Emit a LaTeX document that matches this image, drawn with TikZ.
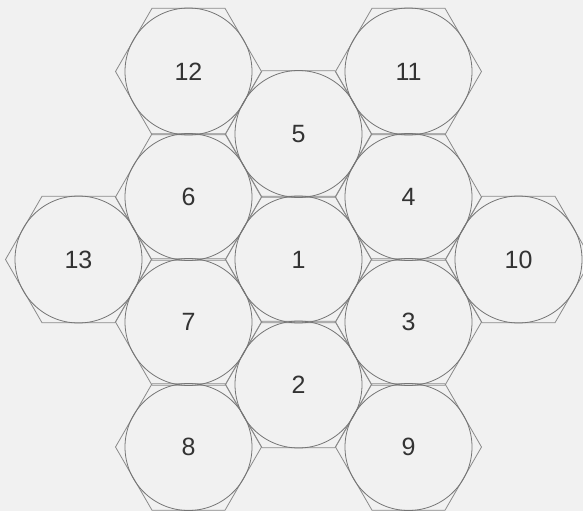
\documentclass[tikz,border=0pt]{standalone}
\usepackage{fontspec}
\setmainfont{Liberation Sans}
\usetikzlibrary{calc}
\definecolor{bg}{HTML}{F1F1F1}
\definecolor{hexline}{HTML}{8A8A8A}
\definecolor{circline}{HTML}{757575}
\definecolor{txt}{HTML}{333333}
\tikzset{
  hexline/.style={draw=hexline, line width=0.8pt, line join=miter},
  disc/.style={circle, minimum size=127pt, inner sep=0pt, outer sep=0pt, draw=circline, line width=0.8pt, text=txt, font=\fontsize{25}{30}\selectfont}
}
\begin{document}
\begin{tikzpicture}[x=1pt,y=-1pt]
\fill[bg] (0,0) rectangle (583,511);
\useasboundingbox (0,0) rectangle (583,511);
\foreach \n/\x/\y in {13/78.5/259.5, 12/188.5/71.5, 6/188.5/197, 7/188.5/322, 8/188.5/447, 5/298.5/134, 1/298.5/259.5, 2/298.5/384.5, 11/408.5/71.5, 4/408.5/197, 3/408.5/322, 9/408.5/447, 10/518.5/259.5}
{
  \coordinate (p\n) at (\x,\y);
  \draw[hexline] ($(p\n)+(0:73)$) -- ($(p\n)+(60:73)$) -- ($(p\n)+(120:73)$) -- ($(p\n)+(180:73)$) -- ($(p\n)+(240:73)$) -- ($(p\n)+(300:73)$) -- cycle;
}
\foreach \n in {13,12,6,7,8,5,1,2,11,4,3,9,10}
  \node[disc] (c\n) at (p\n) {\n};
\end{tikzpicture}
\end{document}
